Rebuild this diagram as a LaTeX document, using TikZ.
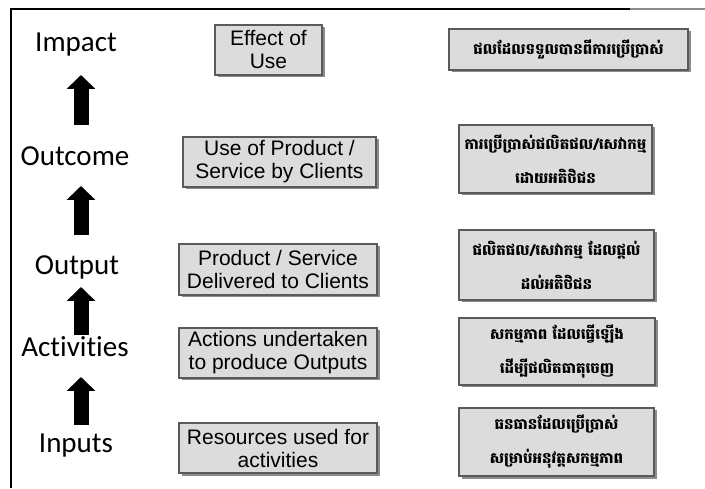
\documentclass[tikz,border=0pt]{standalone}
\usepackage{fontspec}
\newfontfamily\labfont[Ligatures={NoCommon}]{Carlito}
\newfontfamily\boxfont{Liberation Sans}
\newfontfamily\khfont[Script=Khmer]{Battambang}
\usetikzlibrary{shadows,arrows.meta}
\definecolor{boxfill}{HTML}{DCDCDC}
\definecolor{boxline}{HTML}{5A5A5A}
\tikzset{
  lvl/.style={anchor=base, inner sep=0pt, font=\labfont\fontsize{29}{32}\selectfont},
  anybox/.style={draw=boxline, line width=1.2pt, fill=boxfill, inner sep=0pt, align=center,
    drop shadow={shadow xshift=2.5pt, shadow yshift=-2.5pt, fill=black!45, opacity=1}},
  enbox/.style={anybox, font=\boxfont\fontsize{21}{23}\selectfont},
  khbox/.style={anybox, font=\khfont\bfseries\fontsize{15}{34}\selectfont},
  uparrow/.style={line width=15pt, -{Triangle[width=28pt,length=14pt]}},
}
\begin{document}
\begin{tikzpicture}[x=1pt,y=1pt]
\useasboundingbox (0,0) rectangle (705,488);
% frame
\draw[line width=1.4pt, black] (11,0) -- (11,479) -- (630,479);
\draw[line width=1.4pt, black!45] (630,479) -- (705,479);

% level labels
\node[lvl] (impact) at (76,436.5) {Impact};
\node[lvl] (outcome) at (75,322) {Outcome};
\node[lvl] (output) at (77,213) {Output};
\node[lvl] (activities) at (75,131) {Activities};
\node[lvl] (inputs) at (76,35) {Inputs};

% arrows
\coordinate (a1s) at (81,363); \coordinate (a1e) at (81,413);
\coordinate (a2s) at (81,253); \coordinate (a2e) at (81,302);
\coordinate (a3s) at (81,153); \coordinate (a3e) at (81,201);
\coordinate (a4s) at (81,63);  \coordinate (a4e) at (81,111);
\draw[uparrow] (a1s) -- (a1e);
\draw[uparrow] (a2s) -- (a2e);
\draw[uparrow] (a3s) -- (a3e);
\draw[uparrow] (a4s) -- (a4e);

% English boxes
\node[enbox, minimum width=107pt, minimum height=50pt] (m1) at (268.5,438) {Effect of\\Use};
\node[enbox, minimum width=193pt, minimum height=50pt] (m2) at (279.5,326) {Use of Product /\\Service by Clients};
\node[enbox, minimum width=198pt, minimum height=51pt] (m3) at (278,218.5) {Product / Service\\Delivered to Clients};
\node[enbox, minimum width=198pt, minimum height=50pt] (m4) at (278,135) {Actions undertaken\\to produce Outputs};
\node[enbox, minimum width=198pt, minimum height=50pt] (m5) at (278,40) {Resources used for\\activities};

% Khmer boxes
\node[khbox, minimum width=239pt, minimum height=41pt] (r1) at (568.5,438.5) {ផលដែលទទួលបានពីការប្រើប្រាស់};
\node[khbox, minimum width=193pt, minimum height=68pt] (r2) at (555.5,329) {ការប្រើប្រាស់ផលិតផល/សេវាកម្ម\\ដោយអតិថិជន};
\node[khbox, minimum width=195pt, minimum height=70pt] (r3) at (556.5,223) {ផលិតផល/សេវាកម្ម ដែលផ្តល់\\ដល់អតិថិជន};
\node[khbox, minimum width=196pt, minimum height=67pt] (r4) at (557,136.5) {សកម្មភាព ដែលធ្វើឡើង\\ដើម្បីផលិតធាតុចេញ};
\node[khbox, minimum width=195pt, minimum height=68pt] (r5) at (556.5,46) {ធនធានដែលប្រើប្រាស់\\សម្រាប់អនុវត្តសកម្មភាព};
\end{tikzpicture}
\end{document}
